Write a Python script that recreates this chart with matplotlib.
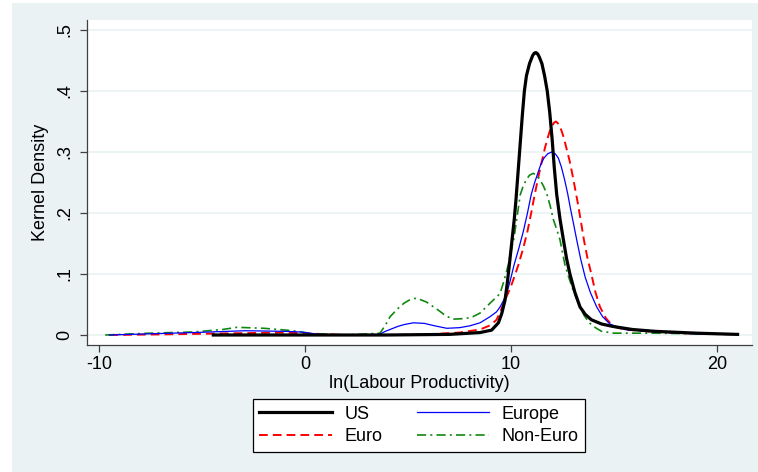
import matplotlib.pyplot as plt
from matplotlib.patches import Rectangle

plt.rcParams['font.family'] = ['Liberation Sans', 'DejaVu Sans']

# kernel density estimates
us_x = [-4.45, 0, 4, 7, 8.5, 9.06, 9.39, 9.55, 9.71, 9.82, 9.92, 10.0, 10.08, 10.16,
        10.24, 10.35, 10.45, 10.55, 10.65, 10.75, 10.9, 11.05, 11.13, 11.21, 11.29,
        11.37, 11.5, 11.63, 11.76, 11.88, 12.0, 12.1, 12.22, 12.38, 12.55, 12.7, 12.86,
        13.1, 13.35, 13.6, 13.9, 14.4, 14.95, 15.9, 17, 19, 21]
us_y = [0.0, 0.0, 0.0, 0.001, 0.004, 0.008, 0.02, 0.035, 0.057, 0.085, 0.115, 0.14,
        0.165, 0.19, 0.221, 0.27, 0.315, 0.36, 0.40, 0.425, 0.445, 0.458, 0.462, 0.463,
        0.461, 0.456, 0.445, 0.425, 0.40, 0.365, 0.32, 0.275, 0.23, 0.19, 0.155, 0.125,
        0.10, 0.07, 0.046, 0.034, 0.025, 0.018, 0.014, 0.009, 0.006, 0.003, 0.001]

euro_x = [-9.5, -7, -5, -3, -1, 0.5, 2, 4, 6, 7.5, 8.5, 9.0, 9.3, 9.5, 9.71, 9.85, 10.0,
          10.18, 10.36, 10.6, 10.8, 10.98, 11.15, 11.32, 11.5, 11.65, 11.8, 11.9, 12.0,
          12.09, 12.18, 12.28, 12.4, 12.55, 12.7, 12.85, 13.0, 13.25, 13.4, 13.54, 13.7,
          13.9, 14.1, 14.32, 14.6, 14.95, 15.5, 17, 19, 21]
euro_y = [0.0, 0.001, 0.002, 0.003, 0.004, 0.002, 0.0, 0.0, 0.001, 0.004, 0.009, 0.016,
          0.025, 0.04, 0.057, 0.068, 0.08, 0.097, 0.115, 0.143, 0.17, 0.20, 0.23, 0.258,
          0.285, 0.307, 0.325, 0.336, 0.343, 0.348, 0.35, 0.347, 0.34, 0.325, 0.305, 0.285,
          0.26, 0.215, 0.185, 0.156, 0.128, 0.10, 0.07, 0.046, 0.028, 0.014, 0.009, 0.005,
          0.002, 0.001]

europe_x = [-9.5, -7.5, -5.4, -2.9, -1, -0.24, 0.7, 2, 3.6, 3.9, 4.2, 4.5, 4.8, 5.26, 5.8,
            6.3, 6.88, 7.5, 8.0, 8.5, 8.98, 9.3, 9.47, 9.63, 9.79, 9.97, 10.15, 10.38,
            10.6, 10.8, 10.98, 11.15, 11.3, 11.45, 11.6, 11.78, 11.97, 12.15, 12.3, 12.45,
            12.6, 12.75, 12.9, 13.05, 13.19, 13.38, 13.6, 13.85, 14.16, 14.45, 14.8, 15.5,
            17, 19, 21]
europe_y = [0.0, 0.002, 0.004, 0.007, 0.006, 0.005, 0.001, 0.0, 0.001, 0.006, 0.01, 0.014,
            0.017, 0.020, 0.019, 0.015, 0.011, 0.012, 0.015, 0.02, 0.03, 0.038, 0.046,
            0.056, 0.068, 0.09, 0.115, 0.142, 0.17, 0.2, 0.23, 0.25, 0.265, 0.28, 0.29,
            0.297, 0.30, 0.297, 0.29, 0.275, 0.255, 0.232, 0.205, 0.18, 0.156, 0.125,
            0.095, 0.07, 0.046, 0.03, 0.018, 0.009, 0.005, 0.002, 0.001]

noneuro_x = [-9.7, -7.5, -5.4, -4, -3.3, -2, -0.57, 0.4, 2, 3.64, 3.9, 4.13, 4.5, 4.8,
             5.1, 5.34, 5.6, 5.9, 6.2, 6.5, 6.85, 7.2, 7.8, 8.15, 8.5, 8.98, 9.47, 9.67,
             9.87, 10.0, 10.15, 10.3, 10.45, 10.6, 10.75, 10.9, 11.08, 11.25, 11.4, 11.58,
             11.75, 11.9, 12.05, 12.22, 12.38, 12.5, 12.62, 12.8, 13.0, 13.18, 13.35,
             13.55, 13.8, 14.1, 14.4, 15.0, 15.8, 17, 19, 21]
noneuro_y = [0.0, 0.003, 0.005, 0.009, 0.0126, 0.011, 0.007, 0.002, 0.0, 0.003, 0.016,
             0.03, 0.043, 0.052, 0.058, 0.060, 0.058, 0.054, 0.047, 0.04, 0.031, 0.026,
             0.027, 0.03, 0.036, 0.052, 0.068, 0.09, 0.115, 0.137, 0.16, 0.195, 0.23, 0.245,
             0.255, 0.262, 0.265, 0.262, 0.255, 0.244, 0.23, 0.212, 0.19, 0.173, 0.156,
             0.135, 0.115, 0.095, 0.075, 0.06, 0.046, 0.032, 0.02, 0.012, 0.006, 0.003,
             0.003, 0.003, 0.002, 0.001]

xticks = [-10, 0, 10, 20]
yticks = [0, 0.1, 0.2, 0.3, 0.4, 0.5]
ytick_labels = ['0', '.1', '.2', '.3', '.4', '.5']

W, H = 758, 472
bg = '#EAF2F3'
fs = 13

fig = plt.figure(figsize=(W / 100, H / 100), dpi=100, facecolor='white')
fig.patches.append(Rectangle((12 / W, 0), 1, 1 - 3 / H, transform=fig.transFigure,
                             facecolor=bg, edgecolor='none', zorder=-10))

ax = fig.add_axes([87 / W, 1 - 345 / H, (752 - 87) / W, (345 - 20) / H])
ax.set_facecolor('white')
ax.set_xlim(-10.583, 21.70)
ax.set_ylim(-0.0164, 0.5164)

for y in yticks:
    ax.axhline(y, color=bg, lw=1.2, zorder=0)

l_us, = ax.plot(us_x, us_y, color='black', lw=2.3, zorder=5)
l_europe, = ax.plot(europe_x, europe_y, color='#0000FF', lw=0.9, zorder=4)
l_euro, = ax.plot(euro_x, euro_y, color='#FF0000', lw=1.4, dashes=(4.5, 2.6), zorder=3)
l_noneuro, = ax.plot(noneuro_x, noneuro_y, color='#108810', lw=1.2,
                     dashes=(5.5, 2.5, 1.2, 2.5), zorder=3)

for s in ['top', 'right']:
    ax.spines[s].set_visible(False)
for s in ['left', 'bottom']:
    ax.spines[s].set_color('#404040')
    ax.spines[s].set_linewidth(0.9)

ax.set_xticks(xticks)
ax.set_xticklabels([str(t) for t in xticks], fontsize=fs)
ax.set_yticks(yticks)
ax.set_yticklabels(ytick_labels, fontsize=fs, rotation=90, va='center')
ax.tick_params(axis='both', direction='out', length=5, width=0.9, color='#404040')
ax.tick_params(axis='x', pad=3)
ax.tick_params(axis='y', pad=5)

ax.set_xlabel('ln(Labour Productivity)', fontsize=fs, labelpad=1)
ax.set_ylabel('Kernel Density', fontsize=fs, labelpad=5)

leg = fig.legend([l_us, l_euro, l_europe, l_noneuro], ['US', 'Euro', 'Europe', 'Non-Euro'],
                 ncol=2, loc='center', bbox_to_anchor=(419 / W, 1 - 425.5 / H),
                 fontsize=fs, frameon=True, fancybox=False, framealpha=1,
                 edgecolor='black', handlelength=4.0, handletextpad=0.7,
                 columnspacing=1.9, labelspacing=0.3, borderpad=0.35)
leg.get_frame().set_linewidth(0.9)

fig.savefig('out.png', dpi=100, facecolor='white')
